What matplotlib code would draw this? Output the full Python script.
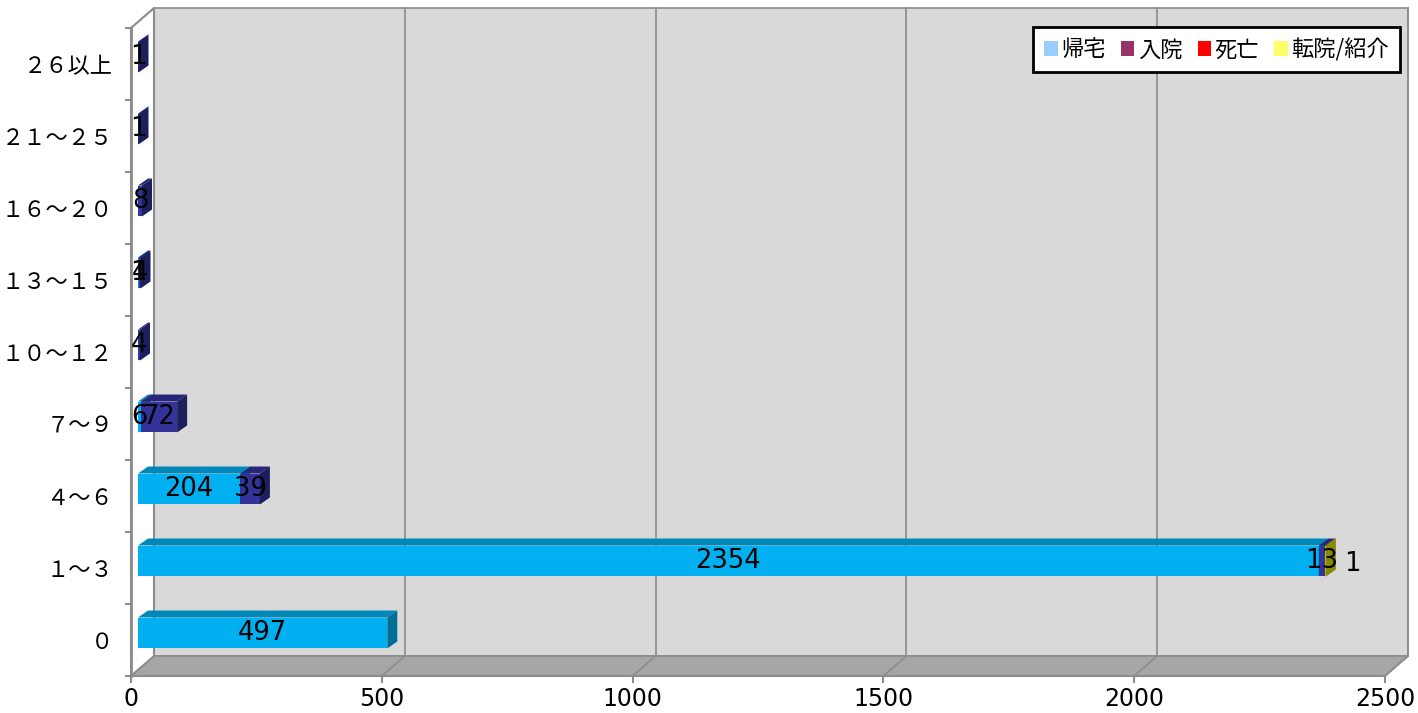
import numpy as np
import matplotlib.pyplot as plt
from matplotlib.patches import Polygon, Patch
from matplotlib.transforms import IdentityTransform, offset_copy

plt.rcParams['font.family'] = ['Noto Sans CJK JP', 'DejaVu Sans']

categories = ['０', '１～３', '４～６', '７～９', '１０～１２', '１３～１５', '１６～２０', '２１～２５', '２６以上']
series_names = ['帰宅', '入院', '死亡', '転院/紹介']
kitaku = [497, 2354, 204, 6, 0, 1, 0, 0, 0]
nyuin = [0, 13, 39, 72, 4, 4, 8, 1, 1]
shibou = [0, 0, 0, 0, 0, 0, 0, 0, 0]
tenin = [0, 1, 0, 0, 0, 0, 0, 0, 0]
xticks = [0, 500, 1000, 1500, 2000, 2500]

# face colours: front, top, side ; legend colours differ (as in original)
faces = [('#00B0F0', '#0088BB', '#006E96'),
         ('#333399', '#27277A', '#1E1E5E'),
         ('#E00000', '#B00000', '#900000'),
         ('#C8C800', '#A5A500', '#8A8A00')]
legend_cols = ['#99CCFF', '#993366', '#FF0000', '#FFFF66']

W, H = 1418, 713
fig = plt.figure(figsize=(W / 100, H / 100), dpi=100)
ax = fig.add_axes([131 / W, (H - 676) / H, 1254 / W, 648 / H])
ax.set_xlim(0, 2500)
ax.set_ylim(-0.5, 8.5)
ax.set_facecolor('none')

D = np.array([23, 20])   # wall depth in pixels
BD = np.array([10, 7])   # bar depth
BO = np.array([7, 7])    # bar offset from front plane
ident = IdentityTransform()


def px(x, y):
    return ax.transData.transform((x, y))


def poly(pts, fc, ec='none', lw=0.8, z=0):
    ax.add_patch(Polygon(pts, closed=True, facecolor=fc, edgecolor=ec, lw=lw,
                         transform=ident, clip_on=False, zorder=z))


# walls and floor
p00, p10, p01, p11 = px(0, -0.5), px(2500, -0.5), px(0, 8.5), px(2500, 8.5)
poly([p00 + D, p10 + D, p11 + D, p01 + D], '#D9D9D9', '#8C8C8C', 1.2, z=0)
poly([p00, p10, p10 + D, p00 + D], '#A6A6A6', '#8C8C8C', 1.2, z=0.5)
poly([p00, p01, p01 + D, p00 + D], 'white', '#8C8C8C', 1.5, z=0.5)
for v in xticks[1:]:
    a, b = px(v, -0.5), px(v, 8.5)
    ax.plot([a[0] + D[0], b[0] + D[0]], [a[1] + D[1], b[1] + D[1]], color='#8C8C8C',
            lw=1.2, transform=ident, clip_on=False, zorder=0.6)
    ax.plot([a[0], a[0] + D[0]], [a[1], a[1] + D[1]], color='#8C8C8C',
            lw=1.2, transform=ident, clip_on=False, zorder=0.6)

# bars
bar_h = 0.43
data = [kitaku, nyuin, shibou, tenin]
front_tr = offset_copy(ax.transData, fig, x=BO[0], y=BO[1], units='dots')
left = np.zeros(len(categories))
z = 2
for s, vals in enumerate(data):
    vals = np.array(vals, dtype=float)
    fc, tc, sc = faces[s]
    for i, v in enumerate(vals):
        if v <= 0:
            continue
        x0, x1 = left[i], left[i] + v
        ax.barh(i, v, left=x0, height=bar_h, color=fc, transform=front_tr, zorder=z)
        br = px(x1, i - bar_h / 2) + BO
        tl = px(x0, i + bar_h / 2) + BO
        tr = px(x1, i + bar_h / 2) + BO
        poly([tl, tr, tr + BD, tl + BD], tc, z=z)
        poly([br, tr, tr + BD, br + BD], sc, z=z)
        z += 0.01
    left = left + vals

# data labels
left = np.zeros(len(categories))
for s, vals in enumerate(data):
    for i, v in enumerate(vals):
        if v <= 0:
            continue
        if s == 3:
            ax.text(left[i] + v, i, str(v), ha='left', va='center', fontsize=18.5,
                    family='DejaVu Sans',
                    transform=offset_copy(ax.transData, fig, x=BO[0] + 18, y=BO[1] - 3, units='dots'),
                    zorder=10)
        else:
            ax.text(left[i] + v / 2, i, str(v), ha='center', va='center', fontsize=18.5,
                    family='DejaVu Sans', transform=front_tr, zorder=10)
    left = left + np.array(vals)

# axes styling
for sp in ['top', 'right']:
    ax.spines[sp].set_visible(False)
ax.spines['left'].set_color('#8C8C8C')
ax.spines['left'].set_linewidth(2)
ax.spines['bottom'].set_color('#8C8C8C')
ax.spines['bottom'].set_linewidth(1.5)
ax.spines['left'].set_zorder(1)
ax.spines['bottom'].set_zorder(1)
ax.set_xticks(xticks)
ax.set_xticklabels([str(t) for t in xticks], family='DejaVu Sans', fontsize=17)
ax.tick_params(axis='x', length=5, width=1.5, color='#8C8C8C', pad=3)
ax.set_yticks(range(len(categories)))
ax.set_yticklabels(categories, fontsize=16)
ax.tick_params(axis='y', which='major', length=0, pad=13)
ax.set_yticks(np.arange(-0.5, 9, 1), minor=True)
ax.tick_params(axis='y', which='minor', length=4.5, width=1.5, color='#8C8C8C')

handles = [Patch(facecolor=c, edgecolor='none') for c in legend_cols]
leg = ax.legend(handles, series_names, ncol=4, loc='upper right',
                bbox_to_anchor=(1400 / W, 1 - 27 / H), bbox_transform=fig.transFigure,
                fontsize=16, frameon=True, fancybox=False, borderaxespad=0,
                framealpha=1, facecolor='white',
                handlelength=0.6, handleheight=0.6, handletextpad=0.15,
                columnspacing=0.7, borderpad=0.5)
leg.get_frame().set_edgecolor('black')
leg.get_frame().set_linewidth(2)
leg.set_zorder(20)

fig.savefig('out.png', dpi=100)
